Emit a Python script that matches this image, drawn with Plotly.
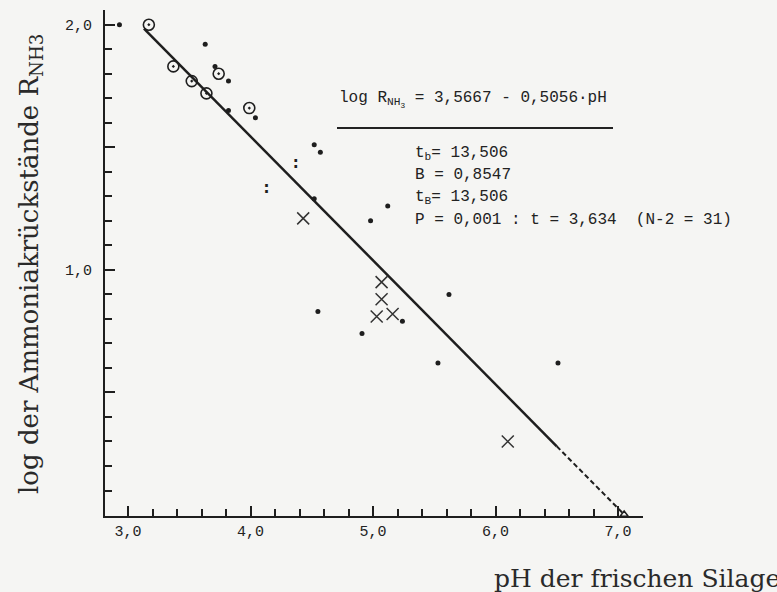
import plotly.graph_objects as go

# ---- data ----
dots_x = [2.93, 3.63, 3.71, 3.82, 3.82, 4.04, 4.52, 4.57, 4.52, 4.98, 5.12, 4.55, 4.91, 5.24, 5.62, 5.53, 6.51]
dots_y = [2.00, 1.92, 1.83, 1.77, 1.65, 1.62, 1.51, 1.48, 1.29, 1.20, 1.26, 0.83, 0.74, 0.79, 0.90, 0.62, 0.62]

circ_x = [3.17, 3.37, 3.52, 3.64, 3.74, 3.99]
circ_y = [2.00, 1.83, 1.77, 1.72, 1.80, 1.66]

pair_x = [4.37, 4.13]
pair_y = [1.43, 1.33]

cross_x = [4.43, 5.07, 5.07, 5.03, 5.16, 6.10]
cross_y = [1.21, 0.95, 0.88, 0.81, 0.82, 0.30]

intercept = 3.5667
slope = -0.5056
solid_x = [3.13, 6.50]
dashed_x = [6.50, 7.05]

x_major_vals = [3, 4, 5, 6, 7]
x_major_text = ["3,0", "4,0", "5,0", "6,0", "7,0"]
x_minor_vals = [3.2, 3.4, 3.6, 3.8, 4.2, 4.4, 4.6, 4.8, 5.2, 5.4, 5.6, 5.8, 6.2, 6.4, 6.6, 6.8]
y_major_vals = [0.5, 1.0, 1.5, 2.0]
y_major_text = ["", "1,0", "", "2,0"]
y_minor_vals = [0.1, 0.2, 0.3, 0.4, 0.6, 0.7, 0.8, 0.9, 1.1, 1.2, 1.3, 1.4, 1.6, 1.7, 1.8, 1.9]

eq_text = "log R<sub>NH<sub>3</sub></sub> = 3,5667 - 0,5056·pH"
stat_lines = ["t<sub>b</sub>= 13,506", "B = 0,8547", "t<sub>B</sub>= 13,506",
              "P = 0,001 : t = 3,634  (N-2 = 31)"]
x_title = "pH der frischen Silage"
y_title = "log der Ammoniakrückstände R<sub>NH3</sub>"

INK = "#1e1e1e"
BG = "#f5f5f3"
MONO = "Liberation Mono, Courier New, monospace"
SERIF = "DejaVu Serif, serif"

fig = go.Figure()

fig.add_trace(go.Scatter(x=solid_x, y=[intercept + slope * v for v in solid_x], mode="lines",
                         line=dict(color=INK, width=2.5), hoverinfo="skip", showlegend=False))
fig.add_trace(go.Scatter(x=dashed_x, y=[intercept + slope * v for v in dashed_x], mode="lines",
                         line=dict(color=INK, width=2, dash="5px,3px"), hoverinfo="skip", showlegend=False))
fig.add_trace(go.Scatter(x=[dashed_x[-1]], y=[intercept + slope * dashed_x[-1]], mode="markers",
                         marker=dict(symbol="triangle-up-open", size=7, color=INK, line=dict(width=1.5)),
                         showlegend=False))

fig.add_trace(go.Scatter(x=dots_x, y=dots_y, mode="markers",
                         marker=dict(symbol="circle", size=5, color=INK), showlegend=False))
fig.add_trace(go.Scatter(x=circ_x, y=circ_y, mode="markers",
                         marker=dict(symbol="circle-open-dot", size=11, color=INK, line=dict(width=1.6)),
                         showlegend=False))
fig.add_trace(go.Scatter(x=pair_x, y=pair_y, mode="text", text=[":"] * len(pair_x),
                         textposition="middle center",
                         textfont=dict(family="DejaVu Sans", size=15, color=INK, weight="bold"),
                         showlegend=False))
fig.add_trace(go.Scatter(x=cross_x, y=cross_y, mode="markers",
                         marker=dict(symbol="x-thin-open", size=12, color="#333", line=dict(width=1.5, color="#333")),
                         showlegend=False))
# invisible trace to activate the overlay axes carrying the short ticks
fig.add_trace(go.Scatter(x=[None], y=[None], xaxis="x2", yaxis="y2", showlegend=False, hoverinfo="skip"))

W, H = 777, 592
L, R, T, B = 105, 134, 10, 76
pw, ph = W - L - R, H - T - B


def px(xp):
    return (xp - L) / pw


def py(yp):
    return (H - B - yp) / ph


ann = [
    dict(x=px(337), y=py(100), text=eq_text, xanchor="left", yanchor="middle",
         font=dict(family=MONO, size=16, color="#222")),
]
for i, s in enumerate(stat_lines):
    ann.append(dict(x=px(413), y=py(153 + i * 22.3), text=s, xanchor="left", yanchor="middle",
                    font=dict(family=MONO, size=16, color="#222")))
ann.append(dict(x=px(492), y=py(578), text=x_title, xanchor="left", yanchor="middle",
                font=dict(family=SERIF, size=25, color="#2a2a2a")))
ann.append(dict(x=px(30), y=py(264), text=y_title, textangle=-90, xanchor="center", yanchor="middle",
                font=dict(family=SERIF, size=26, color="#2a2a2a")))
for a in ann:
    a.update(xref="paper", yref="paper", showarrow=False)

XR = [2.812, 7.204]
YR = [-0.004, 2.06]
fig.update_layout(
    width=W, height=H,
    margin=dict(l=L, r=R, t=T, b=B),
    paper_bgcolor=BG, plot_bgcolor=BG,
    annotations=ann,
    shapes=[dict(type="line", xref="paper", yref="paper", x0=px(337), x1=px(613), y0=py(128), y1=py(128),
                 line=dict(color="#222", width=2))],
    # base axes: line, long major ticks and labels
    xaxis=dict(range=XR, showgrid=False, zeroline=False,
               showline=True, linecolor=INK, linewidth=2,
               tickmode="array", tickvals=x_major_vals, ticktext=x_major_text,
               ticks="inside", ticklen=10, tickwidth=2, tickcolor=INK,
               tickfont=dict(family=MONO, size=15, color="#222")),
    yaxis=dict(range=YR, showgrid=False, zeroline=False,
               showline=True, linecolor=INK, linewidth=2,
               tickmode="array", tickvals=y_major_vals, ticktext=y_major_text,
               ticks="inside", ticklen=10, tickwidth=2, tickcolor=INK, ticklabelstandoff=8,
               tickfont=dict(family=MONO, size=15, color="#222")),
    # overlay axes: short ticks without labels
    xaxis2=dict(range=XR, overlaying="x", side="bottom", anchor="y", showgrid=False, zeroline=False,
                showline=False, tickmode="array", tickvals=x_minor_vals, showticklabels=False,
                ticks="inside", ticklen=7, tickwidth=2, tickcolor=INK),
    yaxis2=dict(range=YR, overlaying="y", side="left", anchor="x", showgrid=False, zeroline=False,
                showline=False, tickmode="array", tickvals=y_minor_vals, showticklabels=False,
                ticks="inside", ticklen=7, tickwidth=2, tickcolor=INK),
)

fig.write_html("out.html")
